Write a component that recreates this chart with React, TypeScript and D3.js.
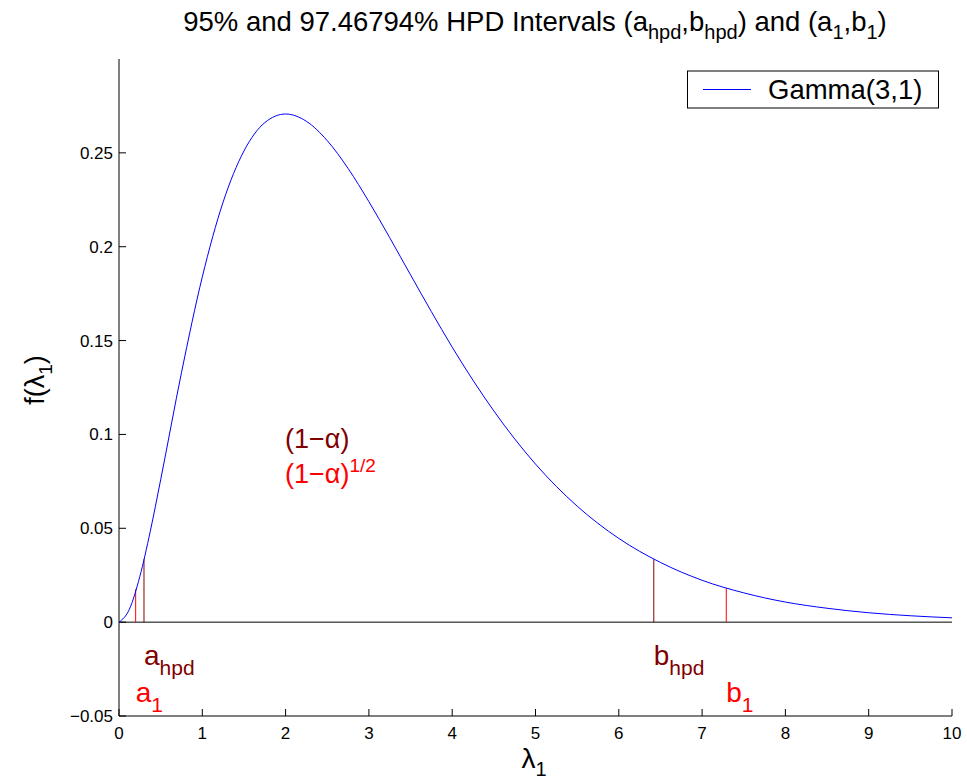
import React from "react";
import * as d3 from "d3";

const lambdaVals = [0, 0.125, 0.25, 0.375, 0.5, 0.75, 1, 1.25, 1.5, 1.75, 2, 2.25, 2.5, 2.75, 3, 3.25, 3.5, 3.75, 4, 4.5, 5, 5.5, 6, 6.5, 7, 7.5, 8, 8.5, 9, 9.5, 10];
const densityVals = [0, 0.0069, 0.0243, 0.0483, 0.0758, 0.1329, 0.1839, 0.2238, 0.251, 0.2661, 0.2707, 0.2668, 0.2565, 0.2417, 0.224, 0.2048, 0.185, 0.1654, 0.1465, 0.1125, 0.0842, 0.0618, 0.0446, 0.0318, 0.0223, 0.0156, 0.0107, 0.0074, 0.005, 0.0034, 0.0023];

// interval endpoints and heights
const hpdBounds = [0.3, 6.42];
const hpdHeights = [0.0335, 0.0335];
const oneBounds = [0.2, 7.29];
const oneHeights = [0.0176, 0.0181];

const xTicks = [0, 1, 2, 3, 4, 5, 6, 7, 8, 9, 10];
const yTicks = [-0.05, 0, 0.05, 0.1, 0.15, 0.2, 0.25];
const yTickLabels = ["\u22120.05", "0", "0.05", "0.1", "0.15", "0.2", "0.25"];

const darkRed = "#800000";
const red = "#ff0000";
const font = "'Liberation Sans', Arial, Helvetica, sans-serif";

const App = () => {
  const margin = { left: 119, right: 15, top: 59, bottom: 66 };
  const W = 967, H = 782;
  const x = d3.scaleLinear().domain([0, 10]).range([margin.left, W - margin.right]);
  const y = d3.scaleLinear().domain([-0.05, 0.3]).range([H - margin.bottom, margin.top]);

  const pts = lambdaVals.map((l, i) => [l, densityVals[i]] as [number, number]);
  const line = d3.line<[number, number]>()
    .x((d) => x(d[0]))
    .y((d) => y(d[1]))
    .curve(d3.curveMonotoneX);

  const x0 = x(0), yb = y(-0.05);

  return (
    <svg width={W} height={H} style={{ position: "absolute", left: 0, top: 0 }} fontFamily={font}>
      <rect width={W} height={H} fill="#fff" />
      {/* title */}
      <text x={535} y={31} textAnchor="middle" fontSize={27.5}>
        95% and 97.46794% HPD Intervals (a<tspan fontSize={20} dy={8}>hpd</tspan>
        <tspan dy={-8}>,b</tspan><tspan fontSize={20} dy={8}>hpd</tspan>
        <tspan dy={-8}>) and (a</tspan><tspan fontSize={20} dy={8}>1</tspan>
        <tspan dy={-8}>,b</tspan><tspan fontSize={20} dy={8}>1</tspan><tspan dy={-8}>)</tspan>
      </text>

      {/* axes */}
      <line x1={x0} x2={x0} y1={margin.top} y2={yb} stroke="#000" />
      <line x1={x0} x2={x(10)} y1={yb} y2={yb} stroke="#000" />
      {xTicks.map((t) => (
        <g key={"x" + t}>
          <line x1={x(t)} x2={x(t)} y1={yb} y2={yb - 7} stroke="#000" />
          <text x={x(t)} y={739} textAnchor="middle" fontSize={17}>{t}</text>
        </g>
      ))}
      {yTicks.map((t, i) => (
        <g key={"y" + t}>
          <line x1={x0} x2={x0 + 7} y1={y(t)} y2={y(t)} stroke="#000" />
          <text x={x0 - 6} y={y(t) + 6} textAnchor="end" fontSize={17}>{yTickLabels[i]}</text>
        </g>
      ))}

      {/* axis labels */}
      <text x={534} y={768} textAnchor="middle" fontSize={28}>
        λ<tspan fontSize={20} dy={8}>1</tspan>
      </text>
      <text transform={`translate(44,380) rotate(-90)`} textAnchor="middle" fontSize={27}>
        f(λ<tspan fontSize={19} dy={8}>1</tspan><tspan dy={-8}>)</tspan>
      </text>

      {/* zero line */}
      <line x1={x(0)} x2={x(10)} y1={y(0)} y2={y(0)} stroke="#000" />

      {/* interval markers */}
      {oneBounds.map((b, i) => (
        <line key={"o" + i} x1={x(b)} x2={x(b)} y1={y(0)} y2={y(oneHeights[i])} stroke={red} />
      ))}
      {hpdBounds.map((b, i) => (
        <line key={"h" + i} x1={x(b)} x2={x(b)} y1={y(0)} y2={y(hpdHeights[i])} stroke={darkRed} />
      ))}

      {/* density curve */}
      <path d={line(pts) || ""} fill="none" stroke="#0000ff" strokeWidth={1} />

      {/* annotations */}
      <text x={285} y={448} fontSize={27} fill={darkRed}>(1−α)</text>
      <text x={285} y={483} fontSize={27} fill={red}>(1−α)<tspan fontSize={19} dy={-11}>1/2</tspan></text>

      <text x={x(hpdBounds[0])} y={665} fontSize={28} fill={darkRed}>a<tspan fontSize={21} dy={10}>hpd</tspan></text>
      <text x={x(oneBounds[0])} y={702} fontSize={28} fill={red}>a<tspan fontSize={21} dy={10}>1</tspan></text>
      <text x={x(hpdBounds[1])} y={665} fontSize={28} fill={darkRed}>b<tspan fontSize={21} dy={10}>hpd</tspan></text>
      <text x={x(oneBounds[1])} y={702} fontSize={28} fill={red}>b<tspan fontSize={21} dy={10}>1</tspan></text>

      {/* legend */}
      <rect x={687.5} y={71} width={251} height={37} fill="#fff" stroke="#000" />
      <line x1={703} x2={751} y1={89.5} y2={89.5} stroke="#0000ff" />
      <text x={768} y={99} fontSize={27.5}>Gamma(3,1)</text>
    </svg>
  );
};

export default App;
